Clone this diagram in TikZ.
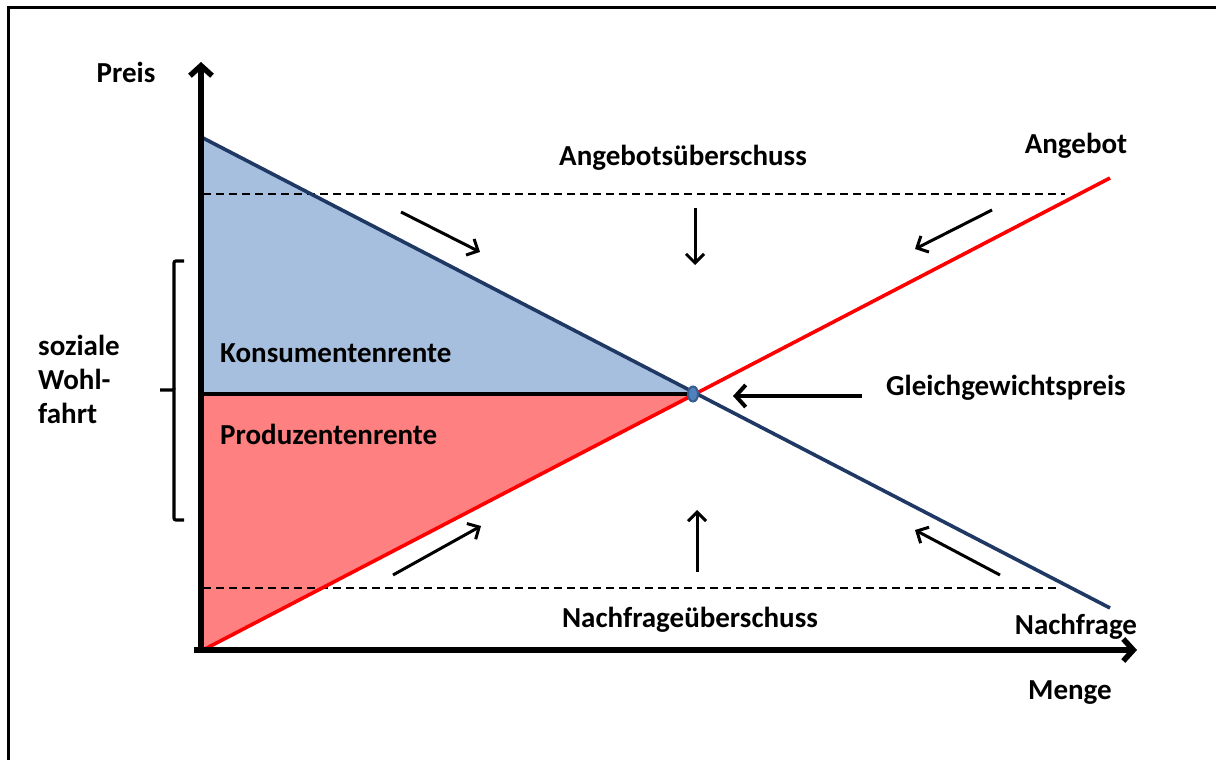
\documentclass[tikz,border=0pt]{standalone}
\usepackage{fontspec}
\setmainfont{Carlito}
\usetikzlibrary{arrows.meta,shapes.geometric}
\definecolor{demand}{HTML}{1F3864}
\definecolor{cfill}{HTML}{A7BFDE}
\definecolor{pfill}{HTML}{FF8080}
\definecolor{dotfill}{HTML}{4F81BD}
\definecolor{dotline}{HTML}{385D8A}
\tikzset{
  lbl/.style={font=\bfseries\fontsize{29}{34}\selectfont, inner sep=0pt},
  axis/.style={line width=5.5pt, -{Straight Barb[length=10pt,width=22pt,line width=5.5pt]}},
  move/.style={line width=3pt, -{Straight Barb[length=9pt,width=18pt,line width=3pt]}},
  guide/.style={line width=2.8pt, dash pattern=on 8pt off 5pt},
}
\begin{document}
\begin{tikzpicture}[x=1pt,y=-1pt]
\useasboundingbox (0,0) rectangle (1216,760);
% frame
\draw[line width=3pt] (8,760) -- (8,8) -- (1216,8);
% points
\coordinate (E) at (693,394);
\coordinate (Dtop) at (203,138);
\coordinate (Dend) at (1110,608);
\coordinate (Sbot) at (203,650);
\coordinate (Send) at (1110,178);
\coordinate (EL) at (201,394);
% areas
\fill[cfill] (201,138) -- (E) -- (EL) -- cycle;
\fill[pfill] (EL) -- (E) -- (201,650) -- cycle;
% dashed lines
\coordinate (u1) at (203,194); \coordinate (u2) at (1065,194);
\coordinate (l1) at (203,588); \coordinate (l2) at (1060,588);
\draw[guide] (u1) -- (u2);
\draw[guide] (l1) -- (l2);
% price line
\draw[line width=4pt] (EL) -- (E);
% curves
\draw[demand, line width=3.6pt] (Dtop) -- (Dend);
\draw[red, line width=3.6pt] (Sbot) -- (Send);
% axes
\coordinate (yb) at (201,653); \coordinate (yt) at (201,62);
\coordinate (xl) at (194,650); \coordinate (xr) at (1137,650);
\draw[axis] (yb) -- (yt);
\draw[axis] (xl) -- (xr);
% equilibrium dot
\node[ellipse, draw=dotline, fill=dotfill, line width=2pt, minimum width=10pt, minimum height=15pt, inner sep=0pt] (dot) at (E) {};
% movement arrows
\coordinate (a1s) at (401,212); \coordinate (a1e) at (480,252);
\coordinate (a2s) at (695,208); \coordinate (a2e) at (695,265);
\coordinate (a3s) at (992,210); \coordinate (a3e) at (915,249);
\coordinate (a4s) at (393,575); \coordinate (a4e) at (481,526);
\coordinate (a5s) at (697,572); \coordinate (a5e) at (697,510);
\coordinate (a6s) at (1000,575); \coordinate (a6e) at (915,530);
\foreach \i in {1,...,6} {\draw[move] (a\i s) -- (a\i e);}
% Gleichgewichtspreis arrow
\coordinate (gs) at (862,396); \coordinate (ge) at (733,396);
\draw[line width=4pt, -{Straight Barb[length=10pt,width=22pt,line width=4pt]}] (gs) -- (ge);
% brace
\draw[line width=3.2pt, rounded corners=2pt] (184,261) -- (174,261) -- (174,390) -- (160,390);
\draw[line width=3.2pt, rounded corners=2pt] (174,388) -- (174,520) -- (184,520);
% labels
\node[lbl, anchor=base] (preis) at (126,82) {Preis};
\node[lbl, anchor=base] (angebot) at (1076,153) {Angebot};
\node[lbl, anchor=base] (aue) at (683,165) {Angebotsüberschuss};
\node[lbl, anchor=base west] (kr) at (220,362) {Konsumentenrente};
\node[lbl, anchor=base west] (pr) at (220,444) {Produzentenrente};
\node[lbl, anchor=base] (ggp) at (1006,395) {Gleichgewichtspreis};
\node[lbl, anchor=base] (nue) at (690,627) {Nachfrageüberschuss};
\node[lbl, anchor=base] (nachfrage) at (1076,634) {Nachfrage};
\node[lbl, anchor=base] (menge) at (1070,699) {Menge};
\node[lbl, anchor=base west] (sw1) at (38,355) {soziale};
\node[lbl, anchor=base west] (sw2) at (38,389) {Wohl-};
\node[lbl, anchor=base west] (sw3) at (38,423) {fahrt};
\end{tikzpicture}
\end{document}
